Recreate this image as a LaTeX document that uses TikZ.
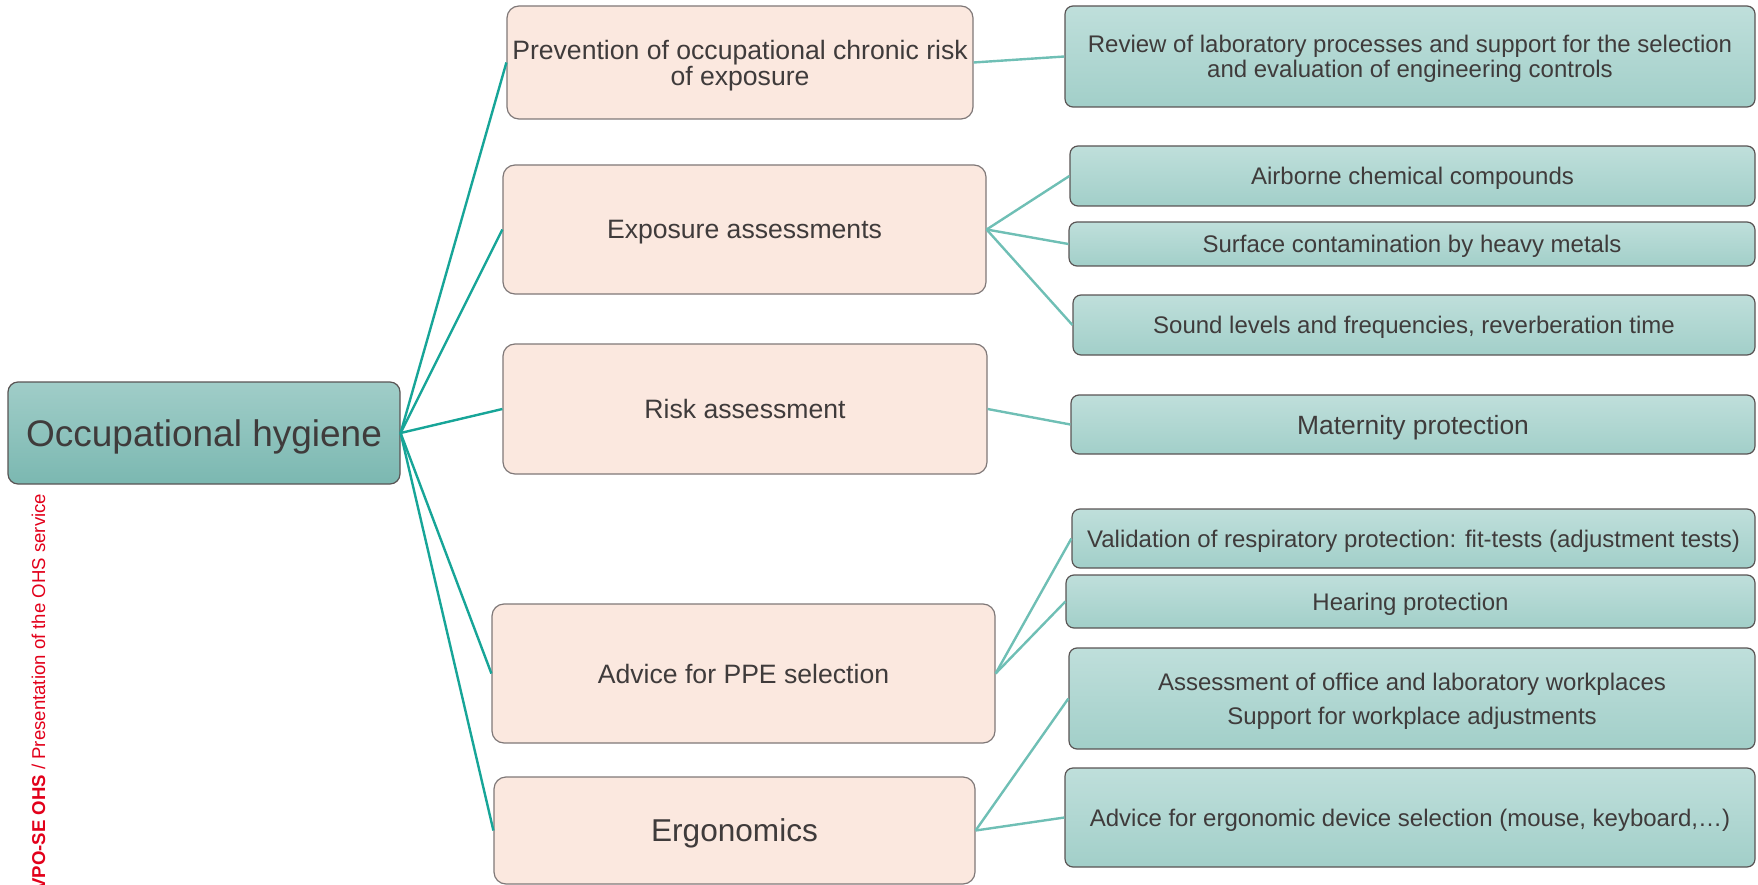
\documentclass[tikz,border=0pt]{standalone}
\usepackage{fontspec}
\setmainfont{Liberation Sans}
\definecolor{ohtext}{HTML}{3F3B3B}
\definecolor{ohpink}{HTML}{FBE8DF}
\definecolor{ohedge}{HTML}{7F7878}
\definecolor{ohtealtop}{HTML}{BFDFDB}
\definecolor{ohtealbot}{HTML}{A2CFC9}
\definecolor{ohroottop}{HTML}{A0CDC8}
\definecolor{ohrootbot}{HTML}{7BB8B1}
\definecolor{ohline}{HTML}{17A598}
\definecolor{ohlinelight}{HTML}{6FBFB5}
\definecolor{ohred}{HTML}{E2001A}
\newcommand{\fsz}[2]{\fontsize{#1}{#2}\selectfont}

\begin{document}
\begin{tikzpicture}[
  x=1pt, y=-1pt,
  every node/.style={text=ohtext, inner sep=0pt, align=center},
  rootbox/.style={rectangle, rounded corners=10pt, draw=ohedge!70!black, line width=1.2pt, top color=ohroottop, bottom color=ohrootbot, font=\fsz{37}{40}, text depth=0pt},
  midbox/.style={rectangle, rounded corners=12pt, draw=ohedge, line width=1.2pt, fill=ohpink, font=\fsz{26.6}{26}, text depth=0pt},
  subbox/.style={rectangle, rounded corners=8pt, draw=ohedge!70!black, line width=1.2pt, top color=ohtealtop, bottom color=ohtealbot, font=\fsz{24}{25}, text depth=0pt},
  rootline/.style={draw=ohline, line width=2.4pt},
  subline/.style={draw=ohlinelight, line width=2.4pt},
]
\useasboundingbox (0,0) rectangle (1758,885);

% Root
\node[rootbox, minimum width=392pt, minimum height=102pt] (root) at (204,433) {Occupational hygiene};

% Side tag
\node[rotate=90, anchor=base west, text=ohred, font=\fsz{18.6}{20}] (tag) at (45,891) {\textbf{VPO-SE OHS} / Presentation of the OHS service};

% Main topics
\node[midbox, minimum width=466pt, minimum height=113pt] (m1) at (740,62.5) {Prevention of occupational chronic risk\\of exposure};
\node[midbox, minimum width=483pt, minimum height=129pt] (m2) at (744.5,229.5) {Exposure assessments};
\node[midbox, minimum width=484pt, minimum height=130pt] (m3) at (745,409) {Risk assessment};
\node[midbox, minimum width=503pt, minimum height=139pt] (m4) at (743.5,673.5) {Advice for PPE selection};
\node[midbox, minimum width=481pt, minimum height=107pt, font=\fsz{31.6}{32}] (m5) at (734.5,830.5) {Ergonomics};

% Details
\node[subbox, minimum width=690pt, minimum height=101pt] (s1) at (1410,56.5) {Review of laboratory processes and support for the selection\\and evaluation of engineering controls};
\node[subbox, minimum width=685pt, minimum height=60pt] (s2) at (1412.5,176) {Airborne chemical compounds};
\node[subbox, minimum width=686pt, minimum height=44pt] (s3) at (1412,244) {Surface contamination by heavy metals};
\node[subbox, minimum width=682pt, minimum height=60pt] (s4) at (1414,325) {Sound levels and frequencies, reverberation time};
\node[subbox, minimum width=684pt, minimum height=59pt, font=\fsz{26.4}{27}] (s5) at (1413,424.5) {Maternity protection};
\node[subbox, minimum width=683pt, minimum height=59pt] (s6) at (1413.5,538.5) {Validation of respiratory protection: fit-tests (adjustment tests)};
\node[subbox, minimum width=689pt, minimum height=53pt] (s7) at (1410.5,601.5) {Hearing protection};
\node[subbox, minimum width=686pt, minimum height=101pt] (s8) at (1412,698.5) {Assessment of office and laboratory workplaces\\[9pt]Support for workplace adjustments};
\node[subbox, minimum width=690pt, minimum height=99pt] (s9) at (1410,817.5) {Advice for ergonomic device selection (mouse, keyboard,\dots)};

% Root connections
\draw[rootline] (root.east) -- (m1.west);
\draw[rootline] (root.east) -- (m2.west);
\draw[rootline] (root.east) -- (m3.west);
\draw[rootline] (root.east) -- (m4.west);
\draw[rootline] (root.east) -- (m5.west);

% Detail connections
\draw[subline] (m1.east) -- (s1.west);
\draw[subline] (m2.east) -- (s2.west);
\draw[subline] (m2.east) -- (s3.west);
\draw[subline] (m2.east) -- (s4.west);
\draw[subline] (m3.east) -- (s5.west);
\draw[subline] (m4.east) -- (s6.west);
\draw[subline] (m4.east) -- (s7.west);
\draw[subline] (m5.east) -- (s8.west);
\draw[subline] (m5.east) -- (s9.west);

\end{tikzpicture}
\end{document}
